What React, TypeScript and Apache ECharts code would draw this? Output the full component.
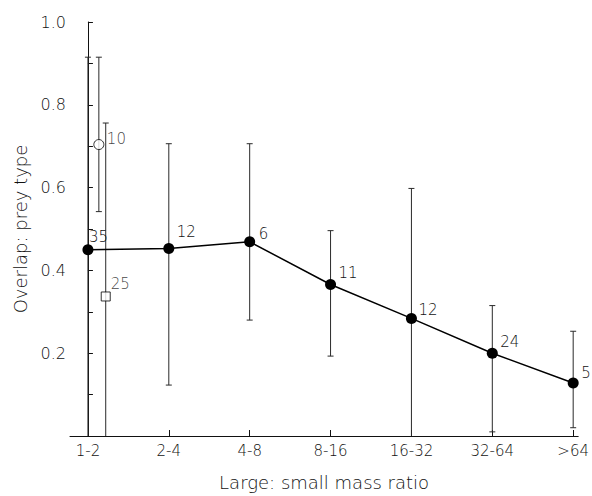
import React, { useEffect, useRef } from "react";
import * as echarts from "echarts";

// Categories (large:small mass ratio)
const categories = ["1-2", "2-4", "4-8", "8-16", "16-32", "32-64", ">64"];
const catPos = [0, 1, 2, 3, 4, 5, 6];

// Main series (filled circles)
const mainMean = [0.45, 0.453, 0.469, 0.366, 0.284, 0.2, 0.128];
const mainLow = [0, 0.123, 0.28, 0.193, 0, 0.01, 0.02];
const mainHigh = [0.915, 0.706, 0.706, 0.496, 0.598, 0.315, 0.253];
const mainN = ["35", "12", "6", "11", "12", "24", "5"];

// Open circle (1-2, offset)
const circlePos = [0.135];
const circleMean = [0.704];
const circleLow = [0.542];
const circleHigh = [0.915];
const circleN = ["10"];

// Open square (1-2, offset)
const squarePos = [0.22];
const squareMean = [0.337];
const squareLow = [0];
const squareHigh = [0.756];
const squareN = ["25"];

const yTickValues = [0.2, 0.4, 0.6, 0.8, 1.0];

// label offsets (style only)
const mainLabelOffsets = [[1, -13], [8, -16], [9, -8], [8, -11], [7, -8], [8, -11], [8, -10]];
const circleLabelOffsets = [[8, -6]];
const squareLabelOffsets = [[5, -12]];

const FONT = "DejaVu Sans";
const TEXT = "#111111";
const W = 200;

function errData(pos: number[], lo: number[], hi: number[]) {
  return pos.map((p, i) => [p, lo[i], hi[i]]);
}

function renderErr(params: any, api: any) {
  const x = api.value(0);
  const lo = api.value(1);
  const hi = api.value(2);
  const pLo = api.coord([x, lo]);
  const pHi = api.coord([x, hi]);
  const cap = 3;
  const style = { stroke: "#2a2a2a", lineWidth: 1 };
  const children: any[] = [
    { type: "line", shape: { x1: pLo[0], y1: pLo[1], x2: pHi[0], y2: pHi[1] }, style },
    { type: "line", shape: { x1: pHi[0] - cap, y1: pHi[1], x2: pHi[0] + cap, y2: pHi[1] }, style },
  ];
  if (lo > 0) {
    children.push({ type: "line", shape: { x1: pLo[0] - cap, y1: pLo[1], x2: pLo[0] + cap, y2: pLo[1] }, style });
  }
  return { type: "group", children };
}

function pointData(pos: number[], mean: number[], n: string[], offs: number[][]) {
  return pos.map((p, i) => ({
    value: [p, mean[i]],
    name: n[i],
    label: {
      show: true,
      position: "inside",
      align: "left",
      verticalAlign: "middle",
      offset: offs[i],
      formatter: n[i],
      color: TEXT,
      fontFamily: FONT,
      fontWeight: W,
      fontSize: 15,
    },
  }));
}

export default function App() {
  const ref = useRef<HTMLDivElement>(null);
  useEffect(() => {
    if (!ref.current) return;
    const chart = echarts.init(ref.current, undefined, { renderer: "svg" });
    chart.setOption({
      animation: false,
      backgroundColor: "#ffffff",
      grid: { left: 70, right: 12, top: 22, bottom: 59 },
      xAxis: {
        type: "value",
        min: -0.2217,
        max: 6.062,
        splitLine: { show: false },
        axisLine: { show: true, onZero: false, lineStyle: { color: "#111", width: 1 } },
        axisTick: { show: true, inside: true, length: 6, customValues: catPos, lineStyle: { color: "#111" } },
        axisLabel: {
          customValues: catPos,
          formatter: (v: number) => categories[Math.round(v)] ?? "",
          color: TEXT,
          fontFamily: FONT,
          fontWeight: W,
          fontSize: 15,
          margin: 7,
        },
        name: "Large: small mass ratio",
        nameLocation: "middle",
        nameGap: 37,
        nameTextStyle: { color: TEXT, fontFamily: FONT, fontWeight: W, fontSize: 18 },
      },
      yAxis: {
        type: "value",
        min: 0,
        max: 1,
        interval: 0.1,
        splitLine: { show: false },
        axisLine: { show: true, lineStyle: { color: "#111", width: 1 } },
        axisTick: { show: true, inside: true, length: 5, lineStyle: { color: "#111" } },
        axisLabel: {
          formatter: (v: number) => {
            const m = yTickValues.find((t) => Math.abs(t - v) < 1e-6);
            return m !== undefined ? m.toFixed(1) : "";
          },
          color: TEXT,
          fontFamily: FONT,
          fontWeight: W,
          fontSize: 16,
          margin: 4,
        },
        name: "Overlap: prey type",
        nameLocation: "middle",
        nameGap: 40,
        nameTextStyle: { color: TEXT, fontFamily: FONT, fontWeight: W, fontSize: 18 },
      },
      series: [
        {
          type: "custom",
          renderItem: renderErr,
          data: errData(catPos, mainLow, mainHigh),
          z: 1,
          silent: true,
        },
        {
          type: "custom",
          renderItem: renderErr,
          data: errData(circlePos, circleLow, circleHigh),
          z: 1,
          silent: true,
        },
        {
          type: "custom",
          renderItem: renderErr,
          data: errData(squarePos, squareLow, squareHigh),
          z: 1,
          silent: true,
        },
        {
          type: "line",
          data: pointData(catPos, mainMean, mainN, mainLabelOffsets),
          symbol: "circle",
          symbolSize: 11,
          lineStyle: { color: "#000", width: 1.5 },
          itemStyle: { color: "#000" },
          z: 3,
        },
        {
          type: "scatter",
          data: pointData(circlePos, circleMean, circleN, circleLabelOffsets),
          symbol: "circle",
          symbolSize: 10,
          itemStyle: { color: "#fff", borderColor: "#000", borderWidth: 1 },
          z: 4,
        },
        {
          type: "scatter",
          data: pointData(squarePos, squareMean, squareN, squareLabelOffsets),
          symbol: "rect",
          symbolSize: 9,
          itemStyle: { color: "#fff", borderColor: "#000", borderWidth: 1 },
          z: 4,
        },
      ],
    });
    return () => chart.dispose();
  }, []);
  return <div ref={ref} style={{ width: 592, height: 496, position: "absolute", left: 0, top: 0 }} />;
}
